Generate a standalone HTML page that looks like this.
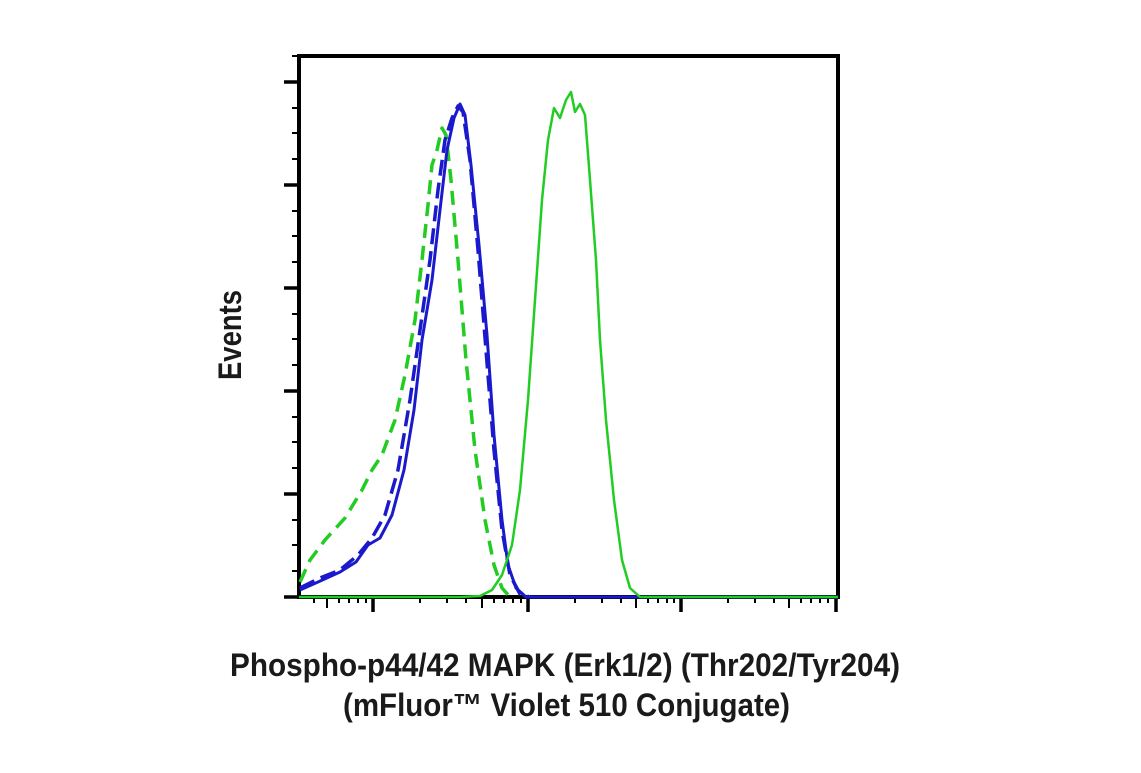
<!DOCTYPE html>
<html><head><style>
html,body{margin:0;padding:0;background:#fff;}
svg text{font-family:"Liberation Sans Narrow","Liberation Sans",sans-serif;font-weight:bold;fill:#1a1a1a;}
</style></head><body>
<svg width="1141" height="768" viewBox="0 0 1141 768" xmlns="http://www.w3.org/2000/svg">
<g stroke="#000" fill="none">
<rect x="299" y="56" width="539" height="541" stroke-width="4"/>
<g stroke-width="3.5">
<line x1="284" y1="82" x2="299" y2="82"/><line x1="284" y1="185" x2="299" y2="185"/>
<line x1="284" y1="288" x2="299" y2="288"/><line x1="284" y1="391" x2="299" y2="391"/>
<line x1="284" y1="494" x2="299" y2="494"/><line x1="284" y1="597" x2="299" y2="597"/>
</g>
<g stroke-width="2">
<line x1="292" y1="56" x2="299" y2="56"/>
<line x1="292" y1="108" x2="299" y2="108"/><line x1="292" y1="133" x2="299" y2="133"/><line x1="292" y1="159" x2="299" y2="159"/>
<line x1="292" y1="211" x2="299" y2="211"/><line x1="292" y1="236" x2="299" y2="236"/><line x1="292" y1="262" x2="299" y2="262"/>
<line x1="292" y1="314" x2="299" y2="314"/><line x1="292" y1="339" x2="299" y2="339"/><line x1="292" y1="365" x2="299" y2="365"/>
<line x1="292" y1="417" x2="299" y2="417"/><line x1="292" y1="442" x2="299" y2="442"/><line x1="292" y1="468" x2="299" y2="468"/>
<line x1="292" y1="520" x2="299" y2="520"/><line x1="292" y1="545" x2="299" y2="545"/><line x1="292" y1="571" x2="299" y2="571"/>
</g>
<g stroke-width="3.5">
<line x1="373" y1="597" x2="373" y2="612"/><line x1="528" y1="597" x2="528" y2="612"/>
<line x1="681" y1="597" x2="681" y2="612"/><line x1="836" y1="597" x2="836" y2="612"/>
</g>
<g stroke-width="2">
<line x1="314" y1="597" x2="314" y2="603"/><line x1="327" y1="597" x2="327" y2="608"/>
<line x1="339" y1="597" x2="339" y2="603"/><line x1="349" y1="597" x2="349" y2="603"/><line x1="358" y1="597" x2="358" y2="603"/><line x1="366" y1="597" x2="366" y2="603"/>
<line x1="420" y1="597" x2="420" y2="603"/><line x1="447" y1="597" x2="447" y2="603"/><line x1="466" y1="597" x2="466" y2="603"/>
<line x1="482" y1="597" x2="482" y2="608"/><line x1="494" y1="597" x2="494" y2="603"/><line x1="504" y1="597" x2="504" y2="603"/><line x1="513" y1="597" x2="513" y2="603"/><line x1="521" y1="597" x2="521" y2="603"/>
<line x1="575" y1="597" x2="575" y2="603"/><line x1="602" y1="597" x2="602" y2="603"/><line x1="621" y1="597" x2="621" y2="603"/>
<line x1="636" y1="597" x2="636" y2="608"/><line x1="648" y1="597" x2="648" y2="603"/><line x1="658" y1="597" x2="658" y2="603"/><line x1="667" y1="597" x2="667" y2="603"/><line x1="674" y1="597" x2="674" y2="603"/>
<line x1="728" y1="597" x2="728" y2="603"/><line x1="755" y1="597" x2="755" y2="603"/><line x1="774" y1="597" x2="774" y2="603"/>
<line x1="789" y1="597" x2="789" y2="608"/><line x1="801" y1="597" x2="801" y2="603"/><line x1="811" y1="597" x2="811" y2="603"/><line x1="820" y1="597" x2="820" y2="603"/><line x1="828" y1="597" x2="828" y2="603"/>
</g>
</g>
<g fill="none" stroke-linejoin="round">
<path stroke="#22cc22" stroke-width="3.5" stroke-dasharray="14,8" d="M300,582 L310,560 L325,540 L345,518 L362,490 L372,470 L382,455 L395,420 L405,375 L415,320 L422,260 L428,205 L432,165 L437,150 L442,128 L446,135 L451,180 L458,260 L466,360 L475,450 L485,520 L494,565 L502,588 L510,597"/>
<path stroke="#1a1acc" stroke-width="3.5" stroke-dasharray="16,7" d="M300,588 L320,578 L340,570 L358,555 L372,538 L385,515 L398,470 L410,400 L420,330 L430,260 L438,190 L445,140 L452,118 L458,106 L463,112 L470,160 L478,250 L486,350 L494,450 L502,530 L510,575 L520,594 L530,597"/>
<path stroke="#1a1acc" stroke-width="3" d="M300,590 L318,582 L340,572 L356,562 L368,545 L380,538 L392,515 L404,470 L414,410 L422,340 L432,280 L440,210 L447,150 L454,118 L460,104 L465,115 L471,165 L479,245 L487,335 L494,435 L502,520 L508,565 L516,588 L526,597 L838,597"/>
<path stroke="#22cc22" stroke-width="2.5" d="M299,597 L460,597 L480,596 L492,590 L502,575 L512,545 L520,490 L528,400 L535,300 L542,200 L548,140 L554,108 L560,118 L566,100 L571,92 L575,112 L580,104 L585,115 L590,180 L596,260 L600,340 L606,420 L614,500 L622,560 L630,588 L640,597 L838,597"/>
</g>
<text x="0" y="0" font-size="32" transform="translate(241,380) rotate(-90)" textLength="90" lengthAdjust="spacingAndGlyphs">Events</text>
<text x="230" y="676" font-size="32" textLength="670" lengthAdjust="spacingAndGlyphs">Phospho-p44/42 MAPK (Erk1/2) (Thr202/Tyr204)</text>
<text x="343" y="716" font-size="32" textLength="447" lengthAdjust="spacingAndGlyphs">(mFluor™ Violet 510 Conjugate)</text>
</svg>
</body></html>
